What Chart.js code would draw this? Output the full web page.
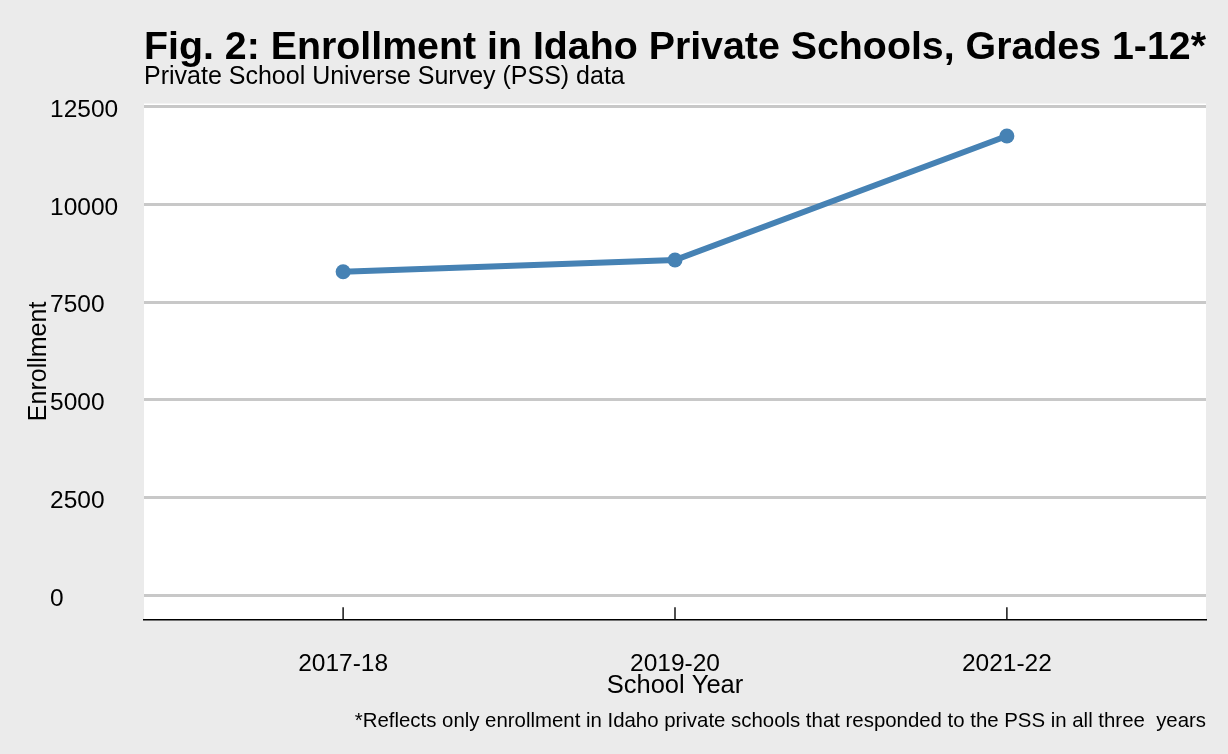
<!DOCTYPE html>
<html>
<head>
<meta charset="utf-8">
<script src="https://cdn.jsdelivr.net/npm/chart.js@4"></script>
<style>
  body { margin: 0; background: #ebebeb; }
  canvas { display: block; }
</style>
</head>
<body>
<canvas id="enroll-chart" width="1228" height="754"></canvas>
<script>
// data
const schoolYears = ['2017-18', '2019-20', '2021-22'];
const enrollment = [8278, 8578, 11750];
const yTicks = [0, 2500, 5000, 7500, 10000, 12500];

const titleText = 'Fig. 2: Enrollment in Idaho Private Schools, Grades 1-12*';
const subtitleText = 'Private School Universe Survey (PSS) data';
const captionText = '*Reflects only enrollment in Idaho private schools that responded to the PSS in all three  years';

const FONT = '"Liberation Sans", Arial, sans-serif';

// white panel behind the plot, inward x ticks and the caption
const panelPlugin = {
  id: 'panel',
  beforeDraw(chart) {
    const { ctx, chartArea } = chart;
    ctx.save();
    ctx.fillStyle = '#ffffff';
    ctx.fillRect(chartArea.left, chartArea.top, chartArea.right - chartArea.left, chartArea.bottom - chartArea.top);
    ctx.restore();
  },
  afterDraw(chart) {
    const { ctx, chartArea } = chart;
    const xs = chart.scales.x;
    ctx.save();
    ctx.strokeStyle = '#222222';
    ctx.lineWidth = 1.6;
    schoolYears.forEach((_, i) => {
      const px = xs.getPixelForValue(i);
      ctx.beginPath();
      ctx.moveTo(px, chartArea.bottom);
      ctx.lineTo(px, chartArea.bottom - 12);
      ctx.stroke();
    });
    ctx.fillStyle = '#000000';
    ctx.font = '20.4px ' + FONT;
    ctx.textAlign = 'right';
    ctx.textBaseline = 'middle';
    ctx.fillText(captionText, chartArea.right, 721);
    ctx.restore();
  }
};

new Chart(document.getElementById('enroll-chart'), {
  type: 'line',
  data: {
    datasets: [
      {
        data: enrollment.map((v, i) => ({ x: i, y: v })),
        borderColor: '#4682b4',
        backgroundColor: '#4682b4',
        borderWidth: 6,
        pointRadius: 7.5,
        pointBorderWidth: 0,
        tension: 0,
      },
    ],
  },
  options: {
    responsive: false,
    animation: false,
    layout: { padding: { left: 50, right: 22, top: 0, bottom: 0 } },
    plugins: {
      legend: { display: false },
      tooltip: { enabled: false },
      title: {
        display: true,
        text: titleText,
        align: 'start',
        fullSize: false,
        color: '#000000',
        font: { family: FONT, size: 39.7, weight: 'bold', lineHeight: 0.9 },
        padding: { top: 30, bottom: 0 },
      },
      subtitle: {
        display: true,
        text: subtitleText,
        align: 'start',
        fullSize: false,
        color: '#000000',
        font: { family: FONT, size: 25, lineHeight: 0.9 },
        padding: { top: 0, bottom: 15.3 },
      },
    },
    scales: {
      x: {
        type: 'linear',
        min: -0.6,
        max: 2.6,
        afterBuildTicks: (scale) => {
          scale.ticks = schoolYears.map((_, i) => ({ value: i }));
        },
        afterFit: (scale) => {
          scale.height = 134.7;
        },
        grid: { display: false, drawTicks: false },
        border: { display: true, color: '#000000', width: 1.5 },
        ticks: {
          color: '#000000',
          font: { family: FONT, size: 24.5 },
          padding: 30.5,
          maxRotation: 0,
          callback: (v) => schoolYears[v],
        },
        title: {
          display: true,
          text: 'School Year',
          color: '#000000',
          font: { family: FONT, size: 25.5 },
          padding: { top: 0, bottom: 53 },
        },
      },
      y: {
        min: -614,
        max: 12580,
        afterBuildTicks: (scale) => {
          scale.ticks = yTicks.map((v) => ({ value: v }));
        },
        afterFit: (scale) => {
          scale.width = 94;
        },
        grid: { color: '#c8c8c8', lineWidth: 3, drawTicks: false },
        border: { display: false },
        ticks: {
          color: '#000000',
          font: { family: FONT, size: 24.5 },
          crossAlign: 'far',
          padding: 26,
          labelOffset: 3.5,
          callback: (v) => String(v),
        },
        title: {
          display: true,
          text: 'Enrollment',
          color: '#000000',
          font: { family: FONT, size: 25 },
          padding: { top: -25.5, bottom: 0 },
        },
      },
    },
  },
  plugins: [panelPlugin],
});
</script>
</body>
</html>
